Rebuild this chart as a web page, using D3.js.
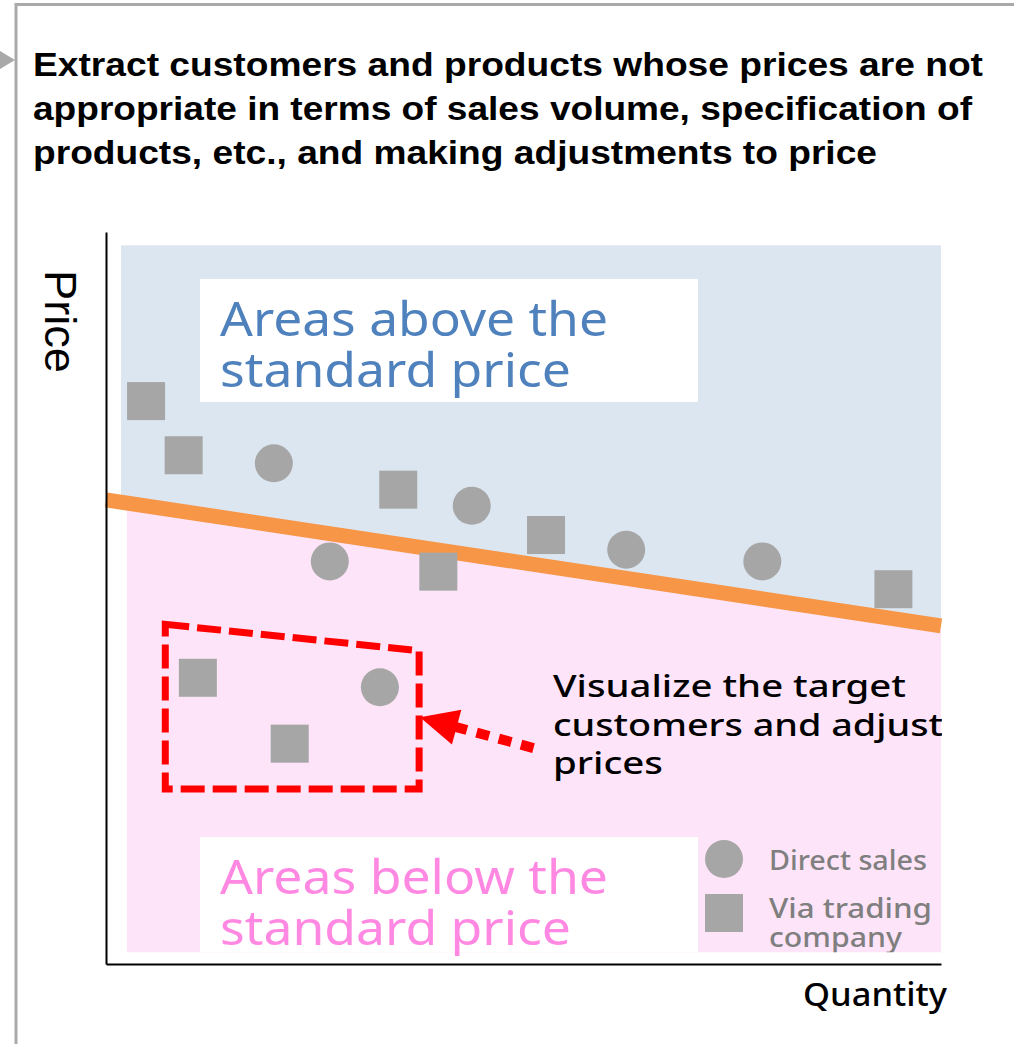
<!DOCTYPE html>
<html>
<head>
<meta charset="utf-8">
<script src="https://cdn.jsdelivr.net/npm/d3@7"></script>
<style>
  html, body { margin: 0; padding: 0; background: #ffffff; }
  svg { display: block; }
</style>
</head>
<body>
<script>
// ---------------- DATA ----------------
// Quantity (x) and Price (y) in relative units 0..100
const directSalesQty   = [20.1, 43.8, 26.8, 62.3, 78.6, 32.8];
const directSalesPrice = [68.4, 62.6, 55.0, 56.6, 55.0, 37.8];

const tradingQty   = [4.8, 9.3, 35.0, 52.7, 39.8, 94.3, 11.0, 22.0];
const tradingPrice = [76.9, 69.5, 64.8, 58.6, 53.6, 51.2, 39.1, 30.1];

// standard price line (start / end)
const standardQty   = [0, 100];
const standardPrice = [63.4, 46.2];

// highlighted target area (dashed outline)
const targetQty   = [7.1, 37.5, 37.5, 7.1];
const targetPrice = [46.4, 42.8, 23.9, 23.9];

const titleLines  = [
  "Extract customers and products whose prices are not",
  "appropriate in terms of sales volume, specification of",
  "products, etc., and making adjustments to price"
];
const aboveLabel  = ["Areas above the", "standard price"];
const belowLabel  = ["Areas below the", "standard price"];
const noteLines   = ["Visualize the target", "customers and adjust", "prices"];
const legendItems = [
  { shape: "circle", lines: ["Direct sales"] },
  { shape: "square", lines: ["Via trading", "company"] }
];
const xAxisLabel = "Quantity";
const yAxisLabel = "Price";

// ---------------- DRAW ----------------
const W = 1014, H = 1044;
const svg = d3.select("body").append("svg").attr("width", W).attr("height", H);

const x = d3.scaleLinear().domain([0, 100]).range([106, 941]);
const y = d3.scaleLinear().domain([0, 100]).range([964, 232]);

const roundFont = "'Noto Sans', 'Open Sans', sans-serif";
const arialFont = "'Liberation Sans', Arial, sans-serif";

// outer frame
svg.append("line").attr("x1", 15).attr("x2", W).attr("y1", 4.5).attr("y2", 4.5)
  .attr("stroke", "#a9a9a9").attr("stroke-width", 3);
svg.append("line").attr("x1", 16).attr("x2", 16).attr("y1", 3).attr("y2", H)
  .attr("stroke", "#a9a9a9").attr("stroke-width", 3);
svg.append("polygon").attr("points", "0,51 15,60 0,69").attr("fill", "#a9a9a9");

// title
const titleLen = [950, 939, 844];
svg.append("g").selectAll("text").data(titleLines).join("text")
  .attr("x", 33).attr("y", (d, i) => 76 + i * 44)
  .attr("font-family", arialFont).attr("font-weight", "bold").attr("font-size", 34)
  .attr("textLength", (d, i) => titleLen[i]).attr("lengthAdjust", "spacingAndGlyphs")
  .attr("fill", "#000").text(d => d);

// standard line helper
const lineY = q => d3.scaleLinear().domain(standardQty).range(standardPrice)(q);

// blue area (above the standard line)
const xBlueL = 1.8, yTop = 98.2, xPinkL = 2.5, yBot = 1.6;
svg.append("path")
  .attr("d", d3.line()([
    [x(xBlueL), y(yTop)], [x(100), y(yTop)],
    [x(100), y(lineY(100))], [x(xBlueL), y(lineY(xBlueL))]
  ]) + "Z")
  .attr("fill", "#dce6f1");
// pink area (below)
svg.append("path")
  .attr("d", d3.line()([
    [x(xPinkL), y(lineY(xPinkL))], [x(100), y(lineY(100))],
    [x(100), y(yBot)], [x(xPinkL), y(yBot)]
  ]) + "Z")
  .attr("fill", "#fde4f8");

// orange standard line
svg.append("line")
  .attr("x1", x(standardQty[0])).attr("y1", y(standardPrice[0]))
  .attr("x2", x(standardQty[1])).attr("y2", y(standardPrice[1]))
  .attr("stroke", "#f79646").attr("stroke-width", 15);

// white label boxes
svg.append("rect").attr("x", 200).attr("y", 279).attr("width", 498).attr("height", 123).attr("fill", "#fff");
svg.append("rect").attr("x", 200).attr("y", 837).attr("width", 498).attr("height", 115).attr("fill", "#fff");

const aboveLen = [388, 351];
svg.append("g").selectAll("text").data(aboveLabel).join("text")
  .attr("x", 220).attr("y", (d, i) => 336 + i * 51)
  .attr("font-family", roundFont).attr("font-size", 48)
  .attr("textLength", (d, i) => aboveLen[i]).attr("lengthAdjust", "spacingAndGlyphs")
  .attr("fill", "#4f81bd").text(d => d);

svg.append("g").selectAll("text").data(belowLabel).join("text")
  .attr("x", 220).attr("y", (d, i) => 894 + i * 51)
  .attr("font-family", roundFont).attr("font-size", 48)
  .attr("textLength", (d, i) => aboveLen[i]).attr("lengthAdjust", "spacingAndGlyphs")
  .attr("fill", "#ff88e2").text(d => d);

// clip for texts inside plot
svg.append("clipPath").attr("id", "plotclip").append("rect")
  .attr("x", x(0)).attr("y", y(yTop)).attr("width", x(100) - x(0) + 1).attr("height", y(yBot) - y(yTop));

// points
const gray = "#a6a6a6";
const squareSize = 38, circleR = 19;
const circles = directSalesQty.map((q, i) => ({ q, p: directSalesPrice[i] }));
const squares = tradingQty.map((q, i) => ({ q, p: tradingPrice[i] }));

svg.append("g").selectAll("circle").data(circles).join("circle")
  .attr("cx", d => x(d.q)).attr("cy", d => y(d.p)).attr("r", circleR).attr("fill", gray);
svg.append("g").selectAll("rect").data(squares).join("rect")
  .attr("x", d => x(d.q) - squareSize / 2).attr("y", d => y(d.p) - squareSize / 2)
  .attr("width", squareSize).attr("height", squareSize).attr("fill", gray);

// dashed target outline
const tpts = targetQty.map((q, i) => [x(q), y(targetPrice[i])]);
svg.append("path").attr("d", d3.line()(tpts) + "Z")
  .attr("fill", "none").attr("stroke", "#ff0000").attr("stroke-width", 7)
  .attr("stroke-dasharray", "24 8");

// dotted arrow
const tip = [x(37.6), y(33.7)], tail = [x(51.2), y(29.5)];
const dx = tail[0] - tip[0], dy = tail[1] - tip[1], len = Math.hypot(dx, dy);
const ux = dx / len, uy = dy / len;
const headL = 38, headW = 18;
const base = [tip[0] + ux * headL, tip[1] + uy * headL];
svg.append("line")
  .attr("x1", tail[0]).attr("y1", tail[1]).attr("x2", base[0] - ux * 4).attr("y2", base[1] - uy * 4)
  .attr("stroke", "#ff0000").attr("stroke-width", 10).attr("stroke-dasharray", "13 10");
svg.append("polygon")
  .attr("points", [tip, [base[0] - uy * headW, base[1] + ux * headW], [base[0] + uy * headW, base[1] - ux * headW]]
    .map(p => p.join(",")).join(" "))
  .attr("fill", "#ff0000");

// annotation text
const noteLen = [353, 390, 110];
svg.append("g").attr("clip-path", "url(#plotclip)").selectAll("text").data(noteLines).join("text")
  .attr("x", 553).attr("y", (d, i) => 697 + i * 38.5)
  .attr("font-family", roundFont).attr("font-size", 31).attr("font-weight", 500)
  .attr("textLength", (d, i) => noteLen[i]).attr("lengthAdjust", "spacingAndGlyphs")
  .attr("fill", "#000").text(d => d);

// legend
const lg = svg.append("g").attr("clip-path", "url(#plotclip)");
lg.append("circle").attr("cx", 724).attr("cy", 859).attr("r", circleR).attr("fill", gray);
lg.append("rect").attr("x", 705).attr("y", 894).attr("width", squareSize).attr("height", squareSize).attr("fill", gray);
const legLen = [158, 163, 133];
const legY = [870, 918, 947];
let li = 0;
legendItems.forEach(item => {
  item.lines.forEach(t => {
    lg.append("text").attr("x", 769).attr("y", legY[li])
      .attr("font-family", roundFont).attr("font-size", 27).attr("font-weight", 500)
      .attr("textLength", legLen[li]).attr("lengthAdjust", "spacingAndGlyphs")
      .attr("fill", "#7f7f7f").text(t);
    li++;
  });
});

// axes
const xAxis = d3.axisBottom(x).tickValues([]).tickSizeOuter(0);
const yAxis = d3.axisLeft(y).tickValues([]).tickSizeOuter(0);
svg.append("g").attr("transform", `translate(0,${y(0)})`).call(xAxis)
  .select(".domain").attr("stroke", "#000").attr("stroke-width", 2);
svg.append("g").attr("transform", `translate(${x(0)},0)`).call(yAxis)
  .select(".domain").attr("stroke", "#000").attr("stroke-width", 2);

// axis labels
svg.append("text").attr("x", 803).attr("y", 1006)
  .attr("font-family", roundFont).attr("font-size", 33).attr("font-weight", 500)
  .attr("textLength", 144).attr("lengthAdjust", "spacingAndGlyphs")
  .attr("fill", "#000").text(xAxisLabel);
svg.append("text").attr("transform", "translate(45,270) rotate(90)")
  .attr("font-family", arialFont).attr("font-size", 45)
  .attr("textLength", 103).attr("lengthAdjust", "spacingAndGlyphs")
  .attr("fill", "#000").text(yAxisLabel);
</script>
</body>
</html>
